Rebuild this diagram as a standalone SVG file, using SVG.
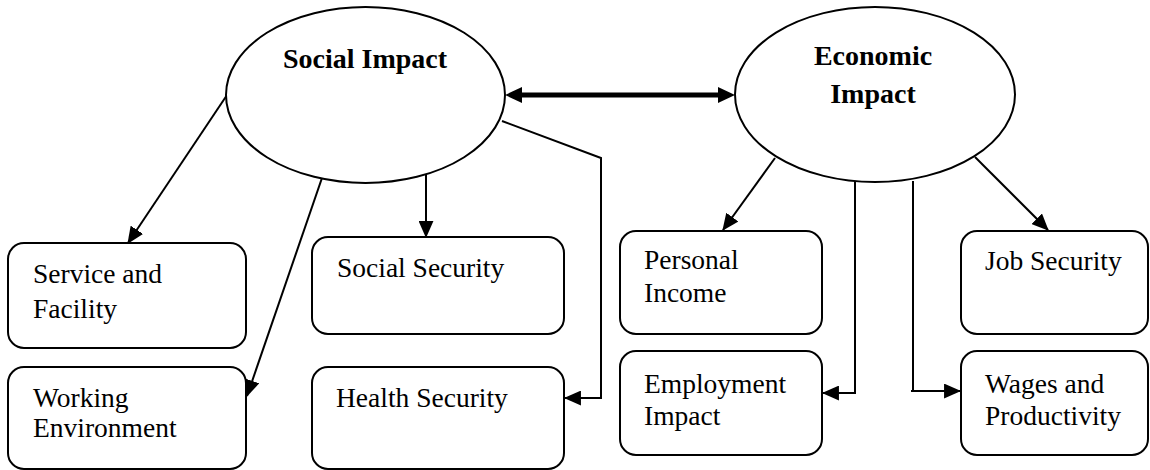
<svg xmlns="http://www.w3.org/2000/svg" width="1150" height="470" viewBox="0 0 1150 470">
  <style>
    .bg { fill: #ffffff; }
    .hub { fill: #ffffff; stroke: #000000; stroke-width: 2; }
    .box { fill: #ffffff; stroke: #000000; stroke-width: 2; }
    .title { font-family: "Liberation Serif", "Times New Roman", serif; font-size: 28px; font-weight: bold; fill: #000000; }
    .label { font-family: "Liberation Serif", "Times New Roman", serif; font-size: 27.5px; fill: #000000; }
    .link { fill: none; stroke: #000000; stroke-width: 2; marker-end: url(#head); }
    .both { fill: none; stroke: #000000; stroke-width: 5; marker-start: url(#bighead); marker-end: url(#bighead); }
  </style>
  <defs>
    <marker id="head" markerUnits="userSpaceOnUse" markerWidth="17" markerHeight="15" viewBox="0 0 16 14" refX="15" refY="7" orient="auto">
      <path d="M0,0 L16,7 L0,14 z" fill="#000000"/>
    </marker>
    <marker id="bighead" markerUnits="userSpaceOnUse" markerWidth="18" markerHeight="16" viewBox="0 0 17 16" refX="2" refY="8" orient="auto-start-reverse">
      <path d="M0,0 L17,8 L0,16 z" fill="#000000"/>
    </marker>
  </defs>

  <rect class="bg" x="0" y="0" width="1150" height="470"/>

  <!-- connectors -->
  <g id="connectors">
    <path class="both" d="M520,95 L720,95"/>
    <path class="link" d="M227,95 L128,243"/>
    <path class="link" d="M323,175 L247,396"/>
    <path class="link" d="M426,173 L426,237"/>
    <path class="link" d="M502,121 L601,158 L601,398 L565,398"/>
    <path class="link" d="M775,158 L723,230"/>
    <path class="link" d="M855,181 L855,393 L823,393"/>
    <path class="link" d="M913,181 L913,391 M911,391 L960,391"/>
    <path class="link" d="M975,157 L1048,230"/>
  </g>

  <!-- hubs -->
  <g id="social-impact">
    <ellipse class="hub" cx="365.5" cy="95" rx="139.5" ry="88"/>
    <text class="title" x="365" y="68" text-anchor="middle">Social Impact</text>
  </g>
  <g id="economic-impact">
    <ellipse class="hub" cx="875" cy="94.5" rx="140" ry="87.5"/>
    <text class="title" x="873" y="65" text-anchor="middle">Economic</text>
    <text class="title" x="873" y="103" text-anchor="middle">Impact</text>
  </g>

  <!-- social factors -->
  <g id="service-facility">
    <rect class="box" x="8" y="243" width="238" height="105" rx="16"/>
    <text class="label" x="33" y="283">Service and</text>
    <text class="label" x="33" y="318">Facility</text>
  </g>
  <g id="working-environment">
    <rect class="box" x="8" y="367" width="238" height="102" rx="16"/>
    <text class="label" x="33" y="407">Working</text>
    <text class="label" x="33" y="437">Environment</text>
  </g>
  <g id="social-security">
    <rect class="box" x="312" y="237" width="252" height="97" rx="16"/>
    <text class="label" x="337" y="277">Social Security</text>
  </g>
  <g id="health-security">
    <rect class="box" x="312" y="367" width="252" height="102" rx="16"/>
    <text class="label" x="336" y="407">Health Security</text>
  </g>

  <!-- economic factors -->
  <g id="personal-income">
    <rect class="box" x="620" y="231" width="202" height="103" rx="16"/>
    <text class="label" x="644" y="269">Personal</text>
    <text class="label" x="644" y="302">Income</text>
  </g>
  <g id="employment-impact">
    <rect class="box" x="620" y="351" width="202" height="104" rx="16"/>
    <text class="label" x="644" y="393">Employment</text>
    <text class="label" x="644" y="425">Impact</text>
  </g>
  <g id="job-security">
    <rect class="box" x="961" y="231" width="187" height="103" rx="16"/>
    <text class="label" x="985" y="270">Job Security</text>
  </g>
  <g id="wages-productivity">
    <rect class="box" x="961" y="351" width="187" height="104" rx="16"/>
    <text class="label" x="985" y="393">Wages and</text>
    <text class="label" x="985" y="425">Productivity</text>
  </g>
</svg>
